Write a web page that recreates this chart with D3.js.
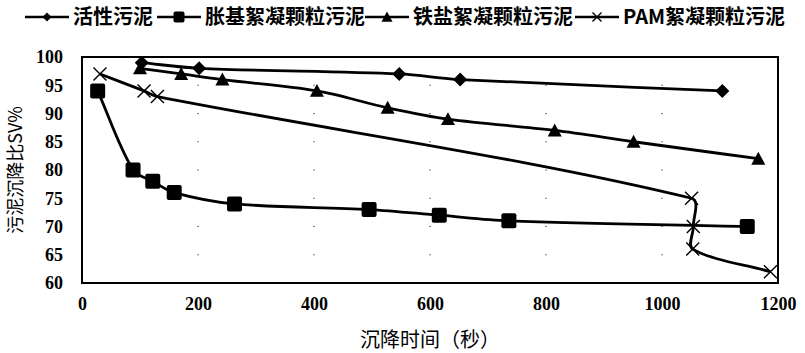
<!DOCTYPE html>
<html>
<head>
<meta charset="utf-8">
<script src="https://cdn.jsdelivr.net/npm/d3@7"></script>
<style>
  body { margin: 0; background: #fff; }
  text { fill: #000; }
  .tick text { font-family: "Liberation Serif", "DejaVu Serif", serif; font-weight: bold; font-size: 18px; }
</style>
</head>
<body>
<script>
// data: [time (s), SV%]
const huoxing = [[103, 99], [202, 98], [547, 97], [652, 96], [1104, 94]];
const zhangji = [[27, 94], [88, 80], [122, 78], [159, 76], [263, 74], [495, 73], [616, 72], [736, 71], [1147, 70]];
const tieyan = [[100, 98], [171, 97], [242, 96], [405, 94], [527, 91], [631, 89], [815, 87], [951, 85], [1166, 82]];
const pam = [[31, 97], [107, 94], [130, 93], [1051, 75], [1054, 70], [1053, 66], [1187, 62]];
const seriesNames = ["活性污泥", "胀基絮凝颗粒污泥", "铁盐絮凝颗粒污泥", "PAM絮凝颗粒污泥"];
const xTicks = [0, 200, 400, 600, 800, 1000, 1200];
const yTicks = [60, 65, 70, 75, 80, 85, 90, 95, 100];

const w = 805, h = 353;
const mLeft = 82, mRight = 778, mTop = 57, mBottom = 283;

const svg = d3.select("body").append("svg")
  .attr("width", w)
  .attr("height", h);

const x = d3.scaleLinear().domain([0, 1200]).range([mLeft, mRight]);
const y = d3.scaleLinear().domain([60, 100]).range([mBottom, mTop]);

// tiny grid dots like the original
xTicks.slice(1, -1).forEach(tx => {
  yTicks.forEach(ty => {
    svg.append("rect")
      .attr("x", x(tx) - 0.5).attr("y", y(ty) - 0.5)
      .attr("width", 1).attr("height", 1)
      .attr("fill", "#000");
  });
});

// frame
svg.append("rect")
  .attr("x", mLeft).attr("y", mTop)
  .attr("width", mRight - mLeft).attr("height", mBottom - mTop)
  .attr("fill", "none")
  .attr("stroke", "#000")
  .attr("stroke-width", 2);

const xAxis = d3.axisBottom(x).tickValues(xTicks).tickFormat(d3.format("d")).tickSize(0).tickPadding(14);
const yAxis = d3.axisLeft(y).tickValues(yTicks).tickFormat(d3.format("d")).tickSize(0).tickPadding(19);

svg.append("g")
  .attr("transform", "translate(0," + mBottom + ")")
  .call(xAxis)
  .attr("font-family", null).attr("font-size", null)
  .call(g => g.select(".domain").remove());

svg.append("g")
  .attr("transform", "translate(" + mLeft + ",0)")
  .call(yAxis)
  .attr("font-family", null).attr("font-size", null)
  .call(g => g.select(".domain").remove());

svg.append("text")
  .attr("x", 430).attr("y", 347)
  .attr("text-anchor", "middle")
  .style("font-family", "'Noto Sans CJK SC', sans-serif")
  .style("font-size", "20px")
  .text("沉降时间（秒）");

svg.append("text")
  .attr("transform", "translate(22,170) rotate(-90)")
  .attr("text-anchor", "middle")
  .style("font-family", "'Noto Sans CJK SC', sans-serif")
  .style("font-size", "18px")
  .text("污泥沉降比SV%");

// Excel-like smoothing: bezier handles scaled by neighbouring segment lengths
function smoothPath(data) {
  const p = data.map(d => [x(d[0]), y(d[1])]);
  const n = p.length;
  const dist = (a, b) => Math.hypot(b[0] - a[0], b[1] - a[1]);
  const before = [], after = [];
  for (let i = 0; i < n; i++) {
    if (i === 0 || i === n - 1) {
      const o = i === 0 ? p[1] : p[n - 2];
      const c = [p[i][0] + (o[0] - p[i][0]) / 3, p[i][1] + (o[1] - p[i][1]) / 3];
      before[i] = c; after[i] = c;
      continue;
    }
    const t = [p[i + 1][0] - p[i - 1][0], p[i + 1][1] - p[i - 1][1]];
    const d0 = dist(p[i - 1], p[i]), d1 = dist(p[i], p[i + 1]);
    const s = d0 + d1;
    before[i] = [p[i][0] - t[0] / 3 * d0 / s, p[i][1] - t[1] / 3 * d0 / s];
    after[i] = [p[i][0] + t[0] / 3 * d1 / s, p[i][1] + t[1] / 3 * d1 / s];
  }
  const path = d3.path();
  path.moveTo(p[0][0], p[0][1]);
  for (let i = 1; i < n; i++) {
    path.bezierCurveTo(after[i - 1][0], after[i - 1][1], before[i][0], before[i][1], p[i][0], p[i][1]);
  }
  return path.toString();
}

const allSeries = [huoxing, zhangji, tieyan, pam];
const shapes = ["diamond", "square", "triangle", "cross"];

function marker(g, shape, size) {
  const s = size / 2;
  if (shape === "cross") {
    g.append("path")
      .attr("d", `M${-s},${-s}L${s},${s}M${-s},${s}L${s},${-s}`)
      .attr("stroke", "#000").attr("stroke-width", 1.4).attr("fill", "none");
  } else if (shape === "diamond") {
    g.append("path")
      .attr("d", `M0,${-s}L${s},0L0,${s}L${-s},0Z`)
      .attr("fill", "#000");
  } else if (shape === "square") {
    g.append("rect")
      .attr("x", -s).attr("y", -s).attr("width", size).attr("height", size)
      .attr("rx", 2)
      .attr("fill", "#000");
  } else {
    g.append("path")
      .attr("d", `M0,${-s}L${s},${s * 0.85}L${-s},${s * 0.85}Z`)
      .attr("fill", "#000");
  }
}

const sizes = [14, 15, 14, 13];

allSeries.forEach((data, i) => {
  svg.append("path")
    .attr("d", smoothPath(data))
    .attr("fill", "none")
    .attr("stroke", "#000")
    .attr("stroke-width", 2.8);

  data.forEach(d => {
    const g = svg.append("g").attr("transform", `translate(${x(d[0])},${y(d[1])})`);
    marker(g, shapes[i], sizes[i]);
  });
});

// legend
const legendX = [25, 157, 365, 575];
const legendSizes = [9, 11, 11, 9];
seriesNames.forEach((name, i) => {
  const lx = legendX[i];
  svg.append("line")
    .attr("x1", lx).attr("x2", lx + 44)
    .attr("y1", 17).attr("y2", 17)
    .attr("stroke", "#000").attr("stroke-width", 2.5);
  const g = svg.append("g").attr("transform", `translate(${lx + 22},17)`);
  marker(g, shapes[i], legendSizes[i]);
  svg.append("text")
    .attr("x", lx + 48).attr("y", 24)
    .style("font-family", "'Noto Sans CJK SC', sans-serif")
    .style("font-size", "20px")
    .style("font-weight", "bold")
    .text(name);
});
</script>
</body>
</html>
